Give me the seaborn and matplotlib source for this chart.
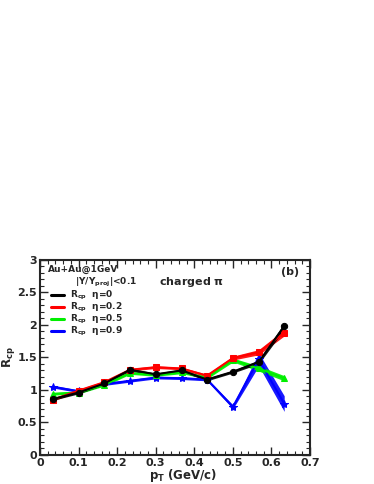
import numpy as np
import pandas as pd
import matplotlib.pyplot as plt
import seaborn as sns
from matplotlib.ticker import MultipleLocator, FuncFormatter

pt = [0.033, 0.1, 0.167, 0.233, 0.3, 0.367, 0.433, 0.5, 0.567, 0.633]

rcp_eta0 = [0.86, 0.96, 1.10, 1.31, 1.24, 1.30, 1.16, 1.28, 1.43, 1.98]
rcp_eta02 = [0.85, 0.99, 1.12, 1.31, 1.35, 1.33, 1.22, 1.49, 1.58, 1.88]
rcp_eta05 = [0.94, 0.96, 1.08, 1.26, 1.23, 1.27, 1.19, 1.46, 1.33, 1.18]
rcp_eta09 = [1.05, 0.98, 1.09, 1.14, 1.19, 1.18, 1.16, 0.74, 1.47, 0.79]

err_eta0 = [0.02, 0.02, 0.02, 0.02, 0.02, 0.02, 0.02, 0.02, 0.03, 0.05]
err_eta02 = [0.02, 0.02, 0.02, 0.02, 0.02, 0.02, 0.02, 0.03, 0.04, 0.05]
err_eta05 = [0.02, 0.02, 0.02, 0.02, 0.02, 0.02, 0.02, 0.03, 0.04, 0.04]
err_eta09 = [0.02, 0.02, 0.02, 0.02, 0.02, 0.02, 0.02, 0.03, 0.10, 0.12]

labels = [r"R$_{\rm cp}$  $\eta$=0", r"R$_{\rm cp}$  $\eta$=0.2",
          r"R$_{\rm cp}$  $\eta$=0.5", r"R$_{\rm cp}$  $\eta$=0.9"]
colors = ["black", "red", "#00ee00", "blue"]
markers = ["o", "s", "^", "*"]

series = [rcp_eta0, rcp_eta02, rcp_eta05, rcp_eta09]
errors = [err_eta0, err_eta02, err_eta05, err_eta09]

df = pd.concat([pd.DataFrame({"pt": pt, "rcp": s, "err": e, "label": l})
                for s, e, l in zip(series, errors, labels)], ignore_index=True)

sns.set_style("ticks")
plt.rcParams["font.family"] = ["DejaVu Sans"]
plt.rcParams["font.weight"] = "bold"
plt.rcParams["mathtext.default"] = "bf"

fig = plt.figure(figsize=(3.74, 4.84), dpi=100)
ax = fig.add_axes([0.107, 0.060, 0.722, 0.403])

# blue first, black last so black sits on top
for i in [3, 2, 1, 0]:
    sub = df[df["label"] == labels[i]]
    ax.fill_between(sub["pt"], sub["rcp"] - sub["err"], sub["rcp"] + sub["err"],
                    color=colors[i], alpha=0.9, lw=0)
    sns.lineplot(data=sub, x="pt", y="rcp", ax=ax, color=colors[i], lw=1.5,
                 marker=markers[i], markersize=6 if i == 3 else 4.5,
                 markeredgecolor=colors[i], legend=False)

ax.set_xlim(0, 0.7)
ax.set_ylim(0, 3)
ax.xaxis.set_major_locator(MultipleLocator(0.1))
ax.xaxis.set_minor_locator(MultipleLocator(0.02))
ax.yaxis.set_major_locator(MultipleLocator(0.5))
ax.yaxis.set_minor_locator(MultipleLocator(0.1))
fmt = FuncFormatter(lambda v, p: f"{round(v, 2):g}")
ax.xaxis.set_major_formatter(fmt)
ax.yaxis.set_major_formatter(fmt)
ax.tick_params(which="both", direction="in", top=True, right=True, labelsize=8, pad=2)
ax.tick_params(which="major", length=6, width=1)
ax.tick_params(which="minor", length=3, width=0.8)
for lbl in ax.get_xticklabels() + ax.get_yticklabels():
    lbl.set_fontweight("bold")
for sp in ax.spines.values():
    sp.set_linewidth(1.5)

ax.set_xlabel(r"p$_{\rm T}$ (GeV/c)", fontsize=8.5, fontweight="bold")
ax.set_ylabel(r"R$_{\rm cp}$", fontsize=8.5, fontweight="bold")
ax.xaxis.set_label_coords(0.53, -0.06)
ax.yaxis.set_label_coords(-0.085, 0.5)

ax.text(0.03, 0.95, "Au+Au@1GeV", transform=ax.transAxes, fontsize=6.5,
        fontweight="bold", va="center")
ax.text(0.13, 0.885, r"|Y/Y$_{\rm proj}$|<0.1", transform=ax.transAxes, fontsize=6.5,
        fontweight="bold", va="center")
ax.text(0.44, 0.885, r"charged $\pi$", transform=ax.transAxes, fontsize=8,
        fontweight="bold", va="center")
ax.text(0.96, 0.94, "(b)", transform=ax.transAxes, fontsize=8,
        fontweight="bold", va="center", ha="right")

for j, l in enumerate(labels):
    yy = 0.82 - j * 0.062
    ax.plot([0.04, 0.09], [yy, yy], transform=ax.transAxes, color=colors[j], lw=2.2)
    ax.text(0.11, yy, l, transform=ax.transAxes, fontsize=6.5, fontweight="bold",
            va="center")

fig.savefig("out.png", dpi=100)
